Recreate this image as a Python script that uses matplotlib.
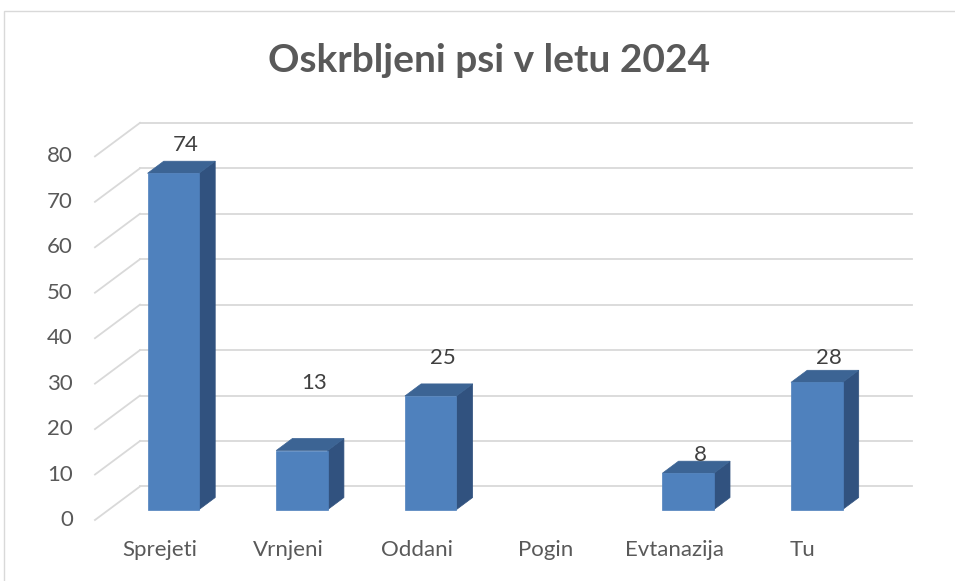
import matplotlib.pyplot as plt
from matplotlib.patches import Polygon, Rectangle
from matplotlib.transforms import offset_copy

# data
categories = ['Sprejeti', 'Vrnjeni', 'Oddani', 'Pogin', 'Evtanazija', 'Tu']
values = [74, 13, 25, 0, 8, 28]
y_ticks = [0, 10, 20, 30, 40, 50, 60, 70, 80]
title = 'Oskrbljeni psi v letu 2024'

# how far each data label sits above its bar (value units), as placed in the original
label_lift = [8.5, 17.1, 10.6, 0, 6.2, 7.6]

plt.rcParams['font.family'] = ['Lato', 'DejaVu Sans']

# fake 3D: depth offset of the back wall in data units
DX = 0.35
DY = 7.38
d0, d1 = 0.31, 0.67   # front / back depth of the bars
w = 0.4

fig = plt.figure(figsize=(9.55, 5.81), dpi=100)
ax = fig.add_axes([0, 0, 1, 1])
ax.set_xlim(-1.2378, 6.1826)
ax.set_ylim(-13.42, 114.41)
ax.axis('off')

# chart border
fig.add_artist(Rectangle((4 / 955, -0.1), 1.2, 1.1 - 11 / 581, transform=fig.transFigure,
                         fill=False, edgecolor='#d9d9d9', linewidth=1.0))

left = -0.5
right = len(categories) - 0.5
grid_c = '#d9d9d9'
for v in y_ticks:
    ax.plot([left, left + DX], [v, v + DY], color=grid_c, lw=1.3, zorder=1)
    ax.plot([left + DX, right + DX], [v + DY, v + DY], color=grid_c, lw=1.3, zorder=1)

tick_tr = offset_copy(ax.transData, fig=fig, x=-22, y=0, units='dots')
for v in y_ticks:
    ax.text(left, v, str(v), transform=tick_tr, ha='right', va='center',
            fontsize=16, color='#595959')

cat_tr = offset_copy(ax.transData, fig=fig, x=0, y=-30, units='dots')
for i, c in enumerate(categories):
    ax.text(i, 0, c, transform=cat_tr, ha='center', va='center',
            fontsize=16, color='#595959')

front_c = '#4f81bd'
top_c = '#3c6494'
side_c = '#31527f'
lab_tr = offset_copy(ax.transData, fig=fig, x=4, y=0, units='dots')
for i, v in enumerate(values):
    if v <= 0:
        continue
    x0 = i - w / 2
    x1 = i + w / 2
    front = [(x0 + d0 * DX, d0 * DY), (x1 + d0 * DX, d0 * DY),
             (x1 + d0 * DX, v + d0 * DY), (x0 + d0 * DX, v + d0 * DY)]
    side = [(x1 + d0 * DX, d0 * DY), (x1 + d1 * DX, d1 * DY),
            (x1 + d1 * DX, v + d1 * DY), (x1 + d0 * DX, v + d0 * DY)]
    top = [(x0 + d0 * DX, v + d0 * DY), (x1 + d0 * DX, v + d0 * DY),
           (x1 + d1 * DX, v + d1 * DY), (x0 + d1 * DX, v + d1 * DY)]
    ax.add_patch(Polygon(side, closed=True, facecolor=side_c, edgecolor=side_c, lw=0.5, zorder=3))
    ax.add_patch(Polygon(top, closed=True, facecolor=top_c, edgecolor=top_c, lw=0.5, zorder=3))
    ax.add_patch(Polygon(front, closed=True, facecolor=front_c, edgecolor=front_c, lw=0.5, zorder=4))
    ax.text(i + 0.5 * (d0 + d1) * DX, v + label_lift[i], str(v), transform=lab_tr,
            ha='center', va='center', fontsize=16, color='#404040', zorder=5)

fig.text(489 / 955, 1 - 72 / 581, title, ha='center', va='baseline',
         fontsize=28, fontweight='bold', color='#595959')

fig.savefig('out.png', dpi=100)
